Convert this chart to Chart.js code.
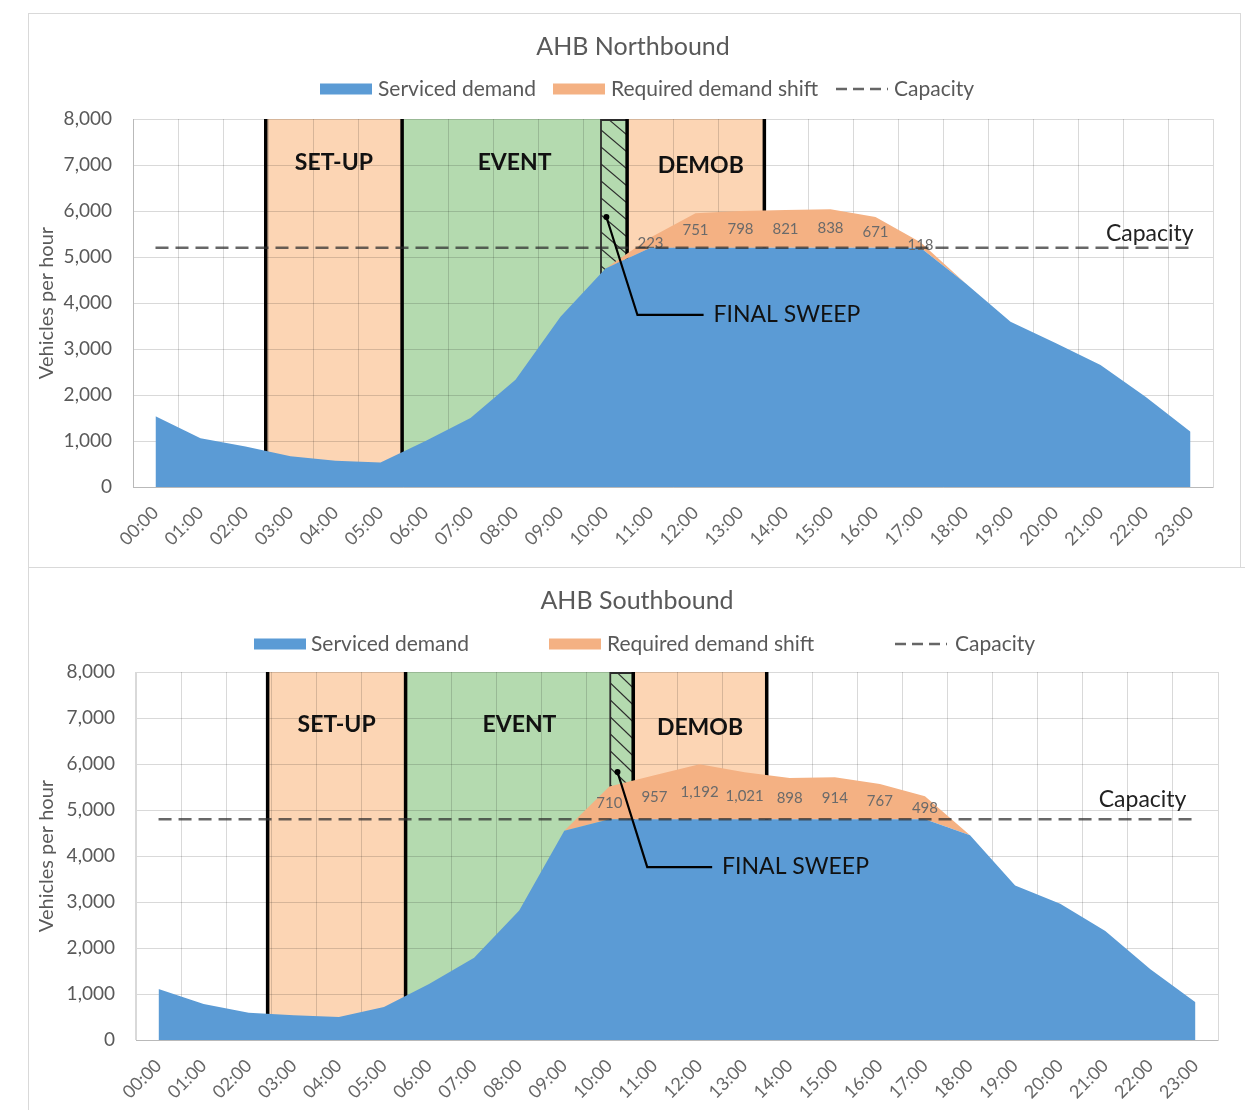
<!DOCTYPE html>
<html><head><meta charset="utf-8">
<script src="https://cdn.jsdelivr.net/npm/chart.js@4.4.1/dist/chart.umd.min.js"></script>
<style>
html,body{margin:0;padding:0;background:#fff;}
body{width:1245px;height:1110px;position:relative;overflow:hidden;font-family:Lato,sans-serif;}
.panel{position:absolute;border:1px solid #d9d9d9;box-sizing:border-box;background:#fff;}
canvas{position:absolute;}
</style></head><body>
<div class="panel" style="left:28px;top:13px;width:1213px;height:555px"></div>
<div class="panel" style="left:28px;top:567px;width:1240px;height:570px"></div>
<canvas id="c1" style="left:29px;top:14px" width="1210" height="552"></canvas>
<canvas id="c2" style="left:29px;top:568px" width="1216" height="542"></canvas>
<script>
// ---------- DATA ----------
const hours = ['00:00','01:00','02:00','03:00','04:00','05:00','06:00','07:00','08:00','09:00','10:00','11:00',
               '12:00','13:00','14:00','15:00','16:00','17:00','18:00','19:00','20:00','21:00','22:00','23:00'];
const yTickLabels = ['0','1,000','2,000','3,000','4,000','5,000','6,000','7,000','8,000'];

const nbServiced = [1540,1060,880,670,570,530,1000,1500,2330,3700,4750,5200,5200,5200,5200,5200,5200,5200,4430,3590,3130,2650,1960,1200];
const nbShift    = [0,0,0,0,0,0,0,0,0,0,0,223,751,798,821,838,671,118,0,0,0,0,0,0];
const nbCapacity = 5200;

const sbServiced = [1110,780,590,540,500,720,1220,1790,2815,4550,4800,4800,4800,4800,4800,4800,4800,4800,4450,3360,2960,2370,1540,820];
const sbShift    = [0,0,0,0,0,0,0,0,0,0,710,957,1192,1021,898,914,767,498,0,0,0,0,0,0];
const sbCapacity = 4800;

const seriesNames = ['Serviced demand','Required demand shift','Capacity'];

// phase windows in hour-index units
const nbPhases = {setup:[2.45,5.48], event:[5.48,9.9], sweep:[9.9,10.48], demob:[10.48,13.53]};
const sbPhases = {setup:[2.42,5.48], event:[5.48,10.02], sweep:[10.02,10.53], demob:[10.53,13.49]};

// ---------- STYLE ----------
const BLUE='#5B9BD5', ORANGE='#F4B183', PEACH='#FCD5B4', GREEN='#B4DAAF';
const FONT='Lato';
const GRAY='#595959';

function makeChart(id, title, serviced, shift, capValue, phases, deco){
  const capacity = hours.map(()=>capValue);
  const plugin = {
    id:'deco_'+id,
    beforeDraw(chart){
      const {ctx, chartArea:a, scales:{x}} = chart;
      ctx.save();
      const band=(r,c)=>{const x0=x.getPixelForValue(r[0]),x1=x.getPixelForValue(r[1]);ctx.fillStyle=c;ctx.fillRect(x0,a.top,x1-x0,a.bottom-a.top);};
      band(phases.setup,PEACH); band(phases.event,GREEN); band(phases.sweep,GREEN); band(phases.demob,PEACH);
      ctx.restore();
    },
    beforeDatasetsDraw(chart){
      const {ctx, chartArea:a, scales:{x}} = chart;
      ctx.save();
      const sx0=x.getPixelForValue(phases.sweep[0]), sx1=x.getPixelForValue(phases.sweep[1]);
      ctx.beginPath(); ctx.rect(sx0,a.top,sx1-sx0,a.bottom-a.top); ctx.clip();
      ctx.strokeStyle='#2b2b2b'; ctx.lineWidth=1.1;
      for(let yy=a.top-40; yy<a.bottom+40; yy+=17){
        ctx.beginPath(); ctx.moveTo(sx0,yy); ctx.lineTo(sx1,yy+22); ctx.stroke();
      }
      ctx.restore();
      ctx.save();
      ctx.strokeStyle='#2b2b2b'; ctx.lineWidth=1.8;
      ctx.beginPath(); ctx.moveTo(sx0,a.bottom); ctx.lineTo(sx0,a.top+1); ctx.lineTo(sx1,a.top+1); ctx.stroke();
      ctx.strokeStyle='#000'; ctx.lineWidth=3.5;
      [phases.setup[0],phases.setup[1],phases.sweep[1],phases.demob[1]].forEach(v=>{
        const xx=x.getPixelForValue(v);
        ctx.beginPath(); ctx.moveTo(xx,a.top); ctx.lineTo(xx,a.bottom); ctx.stroke();
      });
      ctx.restore();
    },
    afterDatasetDraw(chart,args){
      if(args.index!==0) return;
      const {ctx, scales:{x,y}} = chart;
      ctx.save();
      ctx.font='15px '+FONT; ctx.fillStyle='#6a6a6a'; ctx.textAlign='center'; ctx.textBaseline='middle';
      shift.forEach((v,i)=>{
        if(!v) return;
        const yt=y.getPixelForValue(serviced[i]+v), yb=y.getPixelForValue(serviced[i]);
        ctx.fillText(v.toLocaleString('en-US'), x.getPixelForValue(i), (yt+yb)/2);
      });
      ctx.restore();
    },
    afterDraw(chart){
      const {ctx, scales:{x,y}} = chart;
      ctx.save();
      ctx.fillStyle=GRAY; ctx.font='25px '+FONT; ctx.textAlign='center'; ctx.textBaseline='middle';
      ctx.fillText(title, deco.titleX, 33);
      const ly=deco.legendY;
      ctx.font='21px '+FONT; ctx.textAlign='left';
      ctx.fillStyle=BLUE; ctx.fillRect(deco.leg[0],ly-5.5,52,11);
      ctx.fillStyle=GRAY; ctx.fillText(seriesNames[0],deco.leg[1],ly);
      ctx.fillStyle=ORANGE; ctx.fillRect(deco.leg[2],ly-5.5,52,11);
      ctx.fillStyle=GRAY; ctx.fillText(seriesNames[1],deco.leg[3],ly);
      ctx.strokeStyle='#666'; ctx.lineWidth=2.5; ctx.setLineDash([11,6]);
      ctx.beginPath(); ctx.moveTo(deco.leg[4],ly); ctx.lineTo(deco.leg[4]+52,ly); ctx.stroke();
      ctx.setLineDash([]);
      ctx.fillText(seriesNames[2],deco.leg[5],ly);
      ctx.fillStyle='#111'; ctx.font='bold 23px '+FONT; ctx.textAlign='center';
      const yl=y.getPixelForValue(deco.phaseLabelY);
      const cx=(r0,r1)=>(x.getPixelForValue(r0)+x.getPixelForValue(r1))/2;
      ctx.fillText('SET-UP', cx(phases.setup[0],phases.setup[1]), yl);
      ctx.fillText('EVENT', cx(phases.event[0],phases.sweep[1]), yl);
      ctx.fillText('DEMOB', cx(phases.demob[0],phases.demob[1])+deco.demobShift, yl+3);
      ctx.font='23px '+FONT; ctx.fillStyle='#222'; ctx.textAlign='right';
      ctx.fillText('Capacity', x.getPixelForValue(deco.capLabelX), y.getPixelForValue(deco.capLabelY));
      const p0={x:x.getPixelForValue(deco.sweep[0]),y:y.getPixelForValue(deco.sweep[1])};
      const p1={x:x.getPixelForValue(deco.sweep[2]),y:y.getPixelForValue(deco.sweep[3])};
      const p2x=x.getPixelForValue(deco.sweep[4]);
      ctx.strokeStyle='#000'; ctx.lineWidth=2.2;
      ctx.beginPath(); ctx.moveTo(p0.x,p0.y); ctx.lineTo(p1.x,p1.y); ctx.lineTo(p2x,p1.y); ctx.stroke();
      ctx.fillStyle='#000'; ctx.beginPath(); ctx.arc(p0.x,p0.y,3,0,Math.PI*2); ctx.fill();
      ctx.fillStyle='#111'; ctx.font='23px '+FONT; ctx.textAlign='left';
      ctx.fillText('FINAL SWEEP', x.getPixelForValue(deco.sweep[5]), p1.y);
      ctx.restore();
    }
  };
  return new Chart(document.getElementById(id), {
    type:'line',
    data:{labels:hours, datasets:[
      {label:seriesNames[0], data:serviced, backgroundColor:BLUE, borderWidth:0, fill:'origin', pointRadius:0, order:0},
      {label:seriesNames[1], data:shift, backgroundColor:ORANGE, borderWidth:0, fill:'-1', pointRadius:0, order:0},
      {label:seriesNames[2], data:capacity, borderColor:'rgba(45,45,45,0.72)', borderWidth:2.6, borderDash:[13,7], fill:false, pointRadius:0, stack:'cap', order:-1}
    ]},
    options:{
      responsive:false, animation:false, devicePixelRatio:1,
      layout:{padding:{top:deco.padTop,left:0,right:deco.padRight,bottom:0}},
      plugins:{legend:{display:false}, title:{display:false}, tooltip:{enabled:false}},
      elements:{line:{tension:0}},
      scales:{
        x:{offset:true, grid:{offset:true,color:'rgba(0,0,0,0.15)',drawTicks:false}, border:{color:'rgba(0,0,0,0.15)'},
           ticks:{autoSkip:false,maxRotation:45,minRotation:45,padding:15,color:'#666',font:{family:FONT,size:18}},
           afterFit:s=>{s.height=deco.xH;}},
        y:{stacked:true,min:0,max:8000,
           grid:{color:'rgba(0,0,0,0.15)',drawTicks:false}, border:{color:'rgba(0,0,0,0.15)'},
           ticks:{stepSize:1000,padding:21,color:GRAY,font:{family:FONT,size:19},callback:(v,i)=>yTickLabels[i]},
           title:{display:true,text:'Vehicles per hour',color:GRAY,font:{family:FONT,size:20},padding:{top:6,bottom:0}},
           afterFit:s=>{s.width=deco.yW;}}
      }
    },
    plugins:[plugin]
  });
}

makeChart('c1','AHB Northbound',nbServiced,nbShift,nbCapacity,nbPhases,{
  padTop:105,padRight:26,xH:79,yW:104,titleX:604,legendY:75,
  leg:[291,349,524,582,807,865],demobShift:5,
  phaseLabelY:7050,capLabelX:23.07,capLabelY:5520,
  sweep:[10.02,5870,10.71,3740,12.18,12.4]
});
makeChart('c2','AHB Southbound',sbServiced,sbShift,sbCapacity,sbPhases,{
  padTop:104,padRight:27,xH:70,yW:107,titleX:608,legendY:76,
  leg:[225,282,520,578,866,926],demobShift:0,
  phaseLabelY:6850,capLabelX:22.8,capLabelY:5217,
  sweep:[10.18,5826,10.84,3760,12.28,12.5]
});
</script>
</body></html>
